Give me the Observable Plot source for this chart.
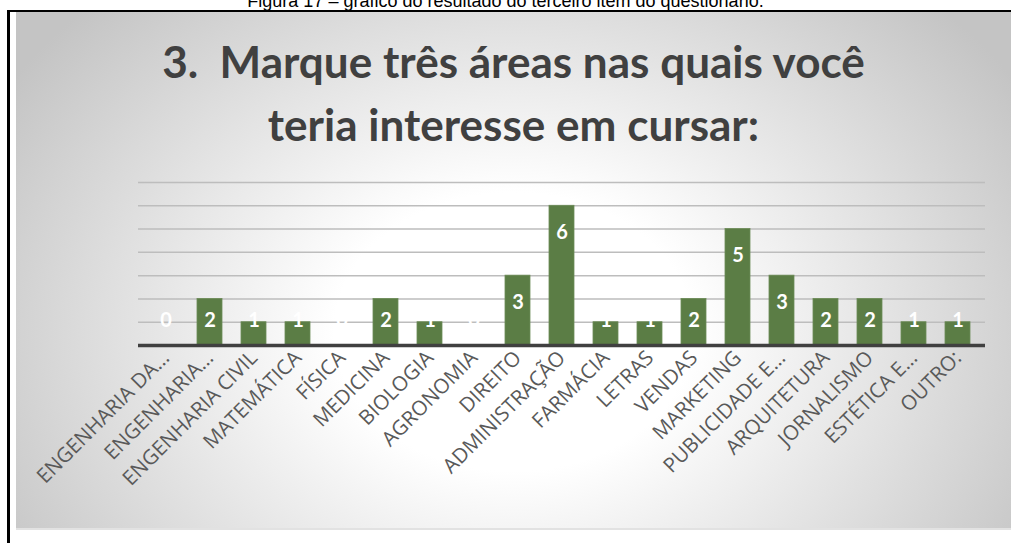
<!DOCTYPE html>
<html><head><meta charset="utf-8">
<script src="https://cdn.jsdelivr.net/npm/d3@7"></script>
<script src="https://cdn.jsdelivr.net/npm/@observablehq/plot@0.6"></script>
<style>
html,body{margin:0;padding:0;background:#fff;width:1011px;height:543px;overflow:hidden;position:relative}
#caption{position:absolute;left:0;width:1011px;top:-8px;line-height:18px;text-align:center;font-family:"Liberation Sans",Arial,sans-serif;font-size:18px;color:#000;white-space:nowrap}
#frameL{position:absolute;left:7px;top:10px;width:2.5px;height:533px;background:#000}
#frameT{position:absolute;left:7px;top:10px;width:1004px;height:2px;background:#000}
#bg{position:absolute;left:16px;top:12px;width:995px;height:516px;
  background:radial-gradient(ellipse 60% 90% at 50% 62%, #ffffff 0%, #ffffff 30%, #c4c4c4 100%);
  border-bottom:2px solid #e2e2e2}
.tline{position:absolute;left:16px;width:995px;text-align:center;font-family:Lato,"Open Sans",sans-serif;font-weight:700;color:#404040;white-space:pre;line-height:1.2}
#chart{position:absolute;left:0;top:0}
</style>
</head><body>
<div id="caption">Figura 17 – gráfico do resultado do terceiro item do questionário.</div>
<div id="frameL"></div><div id="frameT"></div>
<div id="bg"></div>
<div class="tline" id="t1"></div>
<div class="tline" id="t2"></div>
<div id="chart"></div>
<script>
const titleLines = ["3.  Marque três áreas nas quais você", "teria interesse em cursar:"];
const areas = ["ENGENHARIA DA...", "ENGENHARIA...", "ENGENHARIA CIVIL", "MATEMÁTICA", "FÍSICA", "MEDICINA", "BIOLOGIA", "AGRONOMIA", "DIREITO", "ADMINISTRAÇÃO", "FARMÁCIA", "LETRAS", "VENDAS", "MARKETING", "PUBLICIDADE E...", "ARQUITETURA", "JORNALISMO", "ESTÉTICA E...", "OUTRO:"];
const counts = [0, 2, 1, 1, 0, 2, 1, 0, 3, 6, 1, 1, 2, 5, 3, 2, 2, 1, 1];
const yTicks = [0, 1, 2, 3, 4, 5, 6, 7];

const data = areas.map((a, i) => ({area: a, value: counts[i]}));

// title sizing to match reference line width
const cv = document.createElement("canvas").getContext("2d");
cv.font = "700 100px Lato";
const w1 = cv.measureText(titleLines[0]).width;
const fs = 100 * 704 / w1;
const t1 = document.getElementById("t1"), t2 = document.getElementById("t2");
t1.textContent = titleLines[0]; t2.textContent = titleLines[1];
[t1, t2].forEach(t => t.style.fontSize = fs + "px");
t1.style.top = (79 - 0.987 * fs) + "px";
t2.style.top = (142 - 0.987 * fs) + "px";

const chart = Plot.plot({
  width: 1011, height: 543,
  marginTop: 182, marginBottom: 198, marginLeft: 138, marginRight: 26,
  style: {background: "transparent", overflow: "visible"},
  x: {type: "band", domain: areas, paddingInner: 0.43, paddingOuter: 0.215, label: null},
  y: {domain: [0, 7], label: null},
  marks: [
    Plot.gridY(yTicks.slice(1), {stroke: "#bdbdbd", strokeOpacity: 1, strokeWidth: 1.5}),
    Plot.barY(data, {x: "area", y: "value", fill: "#5b7d45", stroke: "#6d8c58", strokeWidth: 0.8}),
    Plot.ruleY([0], {stroke: "#404040", strokeWidth: 3.5}),
    Plot.text(data, {x: "area", y: d => Math.max(d.value - 1.15, 1.05), text: d => String(d.value),
      fill: "white", fontWeight: "bold", fontSize: 20, fontFamily: "Lato, 'Open Sans', sans-serif"}),
    Plot.axisX({tickSize: 0, tickPadding: 9, tickRotate: -45, textAnchor: "end",
      fontSize: 20.5, fontFamily: "'Open Sans', sans-serif", fill: "#595959", label: null}),
    Plot.axisY({ticks: [], label: null})
  ]
});
document.getElementById("chart").appendChild(chart);
</script>
</body></html>
